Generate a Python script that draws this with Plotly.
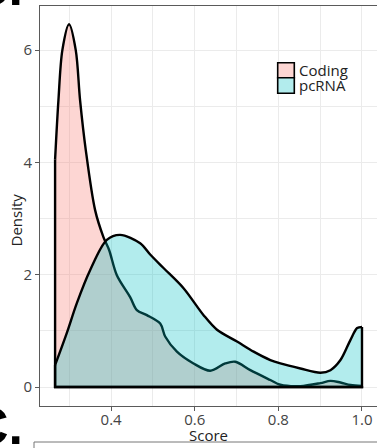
import plotly.graph_objects as go

# Density estimates of the score distribution for each transcript class
score_coding = [0.266, 0.274, 0.2834, 0.2994, 0.3154, 0.3257, 0.3394, 0.3617, 0.3816,
                0.3952, 0.4137, 0.4455, 0.4615, 0.4855, 0.5174, 0.5293, 0.5573, 0.597,
                0.637, 0.673, 0.697, 0.733, 0.7808, 0.8048, 0.8527, 0.9006, 0.9246,
                0.9485, 0.9725, 1.0]
density_coding = [4.05, 5.11, 6.00, 6.46, 6.00, 5.11, 4.22, 3.15, 2.67,
                  2.44, 1.99, 1.60, 1.37, 1.28, 1.13, 0.90, 0.63, 0.42,
                  0.29, 0.42, 0.45, 0.30, 0.125, 0.04, 0.015, 0.07, 0.11,
                  0.08, 0.036, 0.02]

score_pcrna = [0.266, 0.2939, 0.3178, 0.3497, 0.3897, 0.4216, 0.4695, 0.4934, 0.5253,
               0.5732, 0.6211, 0.6532, 0.7011, 0.7408, 0.7808, 0.8048, 0.8527, 0.9006,
               0.9246, 0.9485, 0.9725, 0.9885, 1.0]
density_pcrna = [0.39, 0.96, 1.49, 2.08, 2.62, 2.71, 2.56, 2.36, 2.12,
                 1.76, 1.28, 1.02, 0.81, 0.63, 0.48, 0.42, 0.33, 0.255,
                 0.30, 0.48, 0.84, 1.05, 1.07]

series_names = ["Coding", "pcRNA"]
series_fill = ["rgba(248,118,109,0.3)", "rgba(0,191,196,0.3)"]

x_ticks = [0.4, 0.6, 0.8, 1.0]
x_tick_labels = ["0.4", "0.6", "0.8", "1.0"]
y_ticks = [0, 2, 4, 6]
y_tick_labels = ["0", "2", "4", "6"]

W, H = 377, 448
ML, MR, MT, MB = 40, 0, 6, 42
PW, PH = W - ML - MR, H - MT - MB


def px_x(p):
    return (p - ML) / PW


def px_y(p):
    return (H - MB - p) / PH


FONT = "Open Sans"
fig = go.Figure()

for xs, ys, fillc in [(score_coding, density_coding, series_fill[0]),
                      (score_pcrna, density_pcrna, series_fill[1])]:
    fig.add_trace(go.Scatter(
        x=xs, y=ys, mode="lines", fill="tozeroy", fillcolor=fillc,
        line=dict(color="black", width=2.4, shape="spline", smoothing=0.9),
        showlegend=False, hoverinfo="skip"))
    # closing edges of the density polygon
    fig.add_trace(go.Scatter(
        x=[xs[0], xs[0], xs[-1], xs[-1]], y=[ys[0], 0, 0, ys[-1]],
        mode="lines", line=dict(color="black", width=2.4),
        showlegend=False, hoverinfo="skip"))

axis_common = dict(
    showgrid=True, gridcolor="#EBEBEB", gridwidth=1,
    zeroline=False, showline=True, linecolor="#5a5a5a", linewidth=1,
    mirror=True, ticks="outside", ticklen=4, tickcolor="#5a5a5a",
    tickfont=dict(family=FONT, size=15, color="#444444"),
)
fig.update_xaxes(range=[0.2299, 1.0359], tickvals=x_ticks, ticktext=x_tick_labels,
                 minor=dict(tickvals=[0.3, 0.5, 0.7, 0.9], showgrid=True,
                            gridcolor="#EBEBEB", gridwidth=1, ticks=""),
                 ticklabelstandoff=-4, **axis_common)
fig.update_yaxes(range=[-0.338, 6.785], tickvals=y_ticks, ticktext=y_tick_labels,
                 minor=dict(tickvals=[1, 3, 5], showgrid=True,
                            gridcolor="#EBEBEB", gridwidth=1, ticks=""),
                 **axis_common)

shapes = []
annotations = []

# legend keys and labels
key_x0, key_x1 = 277.7, 294.3
key_rows = [(62.7, 77.7), (77.7, 93.3)]
label_y = [70.0, 84.5]
for name, fillc, (y0, y1), ly in zip(series_names, series_fill, key_rows, label_y):
    shapes.append(dict(type="rect", xref="paper", yref="paper",
                       x0=px_x(key_x0), x1=px_x(key_x1), y0=px_y(y1), y1=px_y(y0),
                       fillcolor="white", line=dict(width=0), layer="above"))
    shapes.append(dict(type="rect", xref="paper", yref="paper",
                       x0=px_x(key_x0), x1=px_x(key_x1), y0=px_y(y1), y1=px_y(y0),
                       fillcolor=fillc, line=dict(color="black", width=1.6),
                       layer="above"))
    annotations.append(dict(text=name, xref="paper", yref="paper",
                            x=px_x(298), y=px_y(ly), xanchor="left", yanchor="middle",
                            showarrow=False, borderpad=0,
                            font=dict(family=FONT, size=15, color="#222222")))

# axis titles
annotations.append(dict(text="Score", xref="paper", yref="paper", x=0.5, y=px_y(435),
                        xanchor="center", yanchor="middle", showarrow=False,
                        borderpad=0,
                        font=dict(family=FONT, size=15, color="#222222")))
annotations.append(dict(text="Density", xref="paper", yref="paper", x=px_x(15.5),
                        y=px_y(220), xanchor="center", yanchor="middle",
                        textangle=-90, showarrow=False,
                        font=dict(family=FONT, size=15, color="#222222")))

# panel letters
annotations.append(dict(text="<b>B.</b>", xref="paper", yref="paper", x=px_x(-31),
                        y=px_y(18), xanchor="left", yanchor="bottom", showarrow=False,
                        font=dict(family="Liberation Sans", size=52, color="black")))
annotations.append(dict(text="<b>C.</b>", xref="paper", yref="paper", x=px_x(-31),
                        y=px_y(457), xanchor="left", yanchor="bottom", showarrow=False,
                        font=dict(family="Liberation Sans", size=52, color="black")))

# frame of the panel below
shapes.append(dict(type="line", xref="paper", yref="paper", x0=px_x(34), x1=px_x(377),
                   y0=px_y(442), y1=px_y(442), line=dict(color="#777777", width=1)))
shapes.append(dict(type="line", xref="paper", yref="paper", x0=px_x(34), x1=px_x(34),
                   y0=px_y(442), y1=px_y(449), line=dict(color="#777777", width=1)))

fig.update_layout(
    width=W, height=H, autosize=False,
    margin=dict(l=ML, r=MR, t=MT, b=MB, pad=0),
    paper_bgcolor="white", plot_bgcolor="white",
    showlegend=False, shapes=shapes, annotations=annotations,
    font=dict(family=FONT),
)

fig.write_html("out.html")
